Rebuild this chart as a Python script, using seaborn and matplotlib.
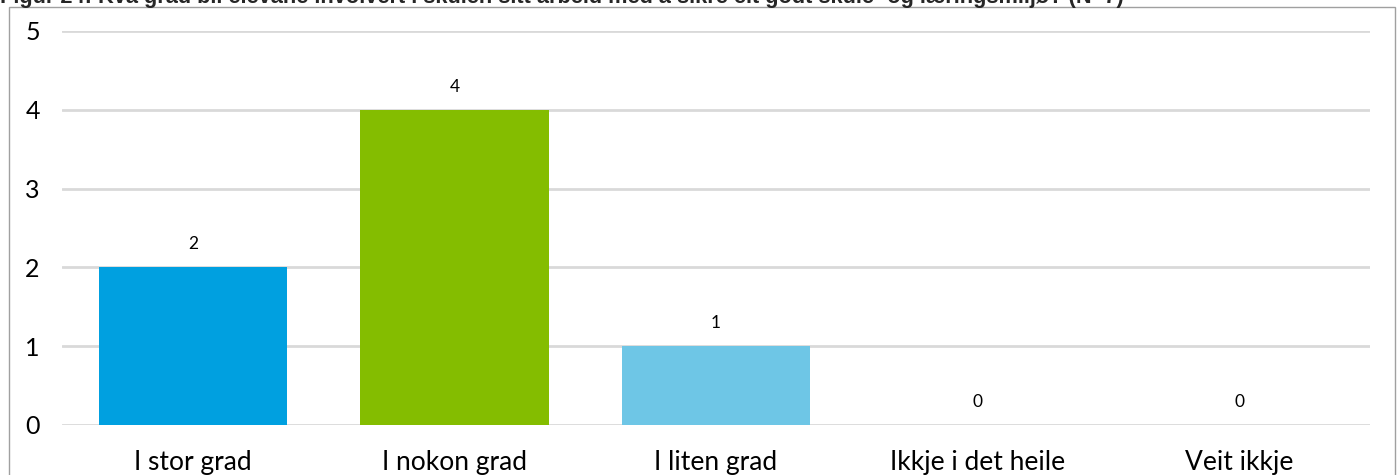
import numpy as np
import matplotlib
matplotlib.use('Agg')
import matplotlib.pyplot as plt
import matplotlib.patches as patches
import seaborn as sns
import pandas as pd

# data
categories = ['I stor grad', 'I nokon grad', 'I liten grad', 'Ikkje i det heile', 'Veit ikkje']
counts = [2, 4, 1, 0, 0]
bar_colors = ['#00a0e0', '#84bd00', '#6ec6e6', '#6ec6e6', '#6ec6e6']
y_ticks = [0, 1, 2, 3, 4, 5]
title = 'Figur 24: Kva grad bli elevane involvert i skulen sitt arbeid med å sikre eit godt skule- og læringsmiljø? (N=7)'

sns.set_style('white')
plt.rcParams['font.family'] = ['Lato', 'DejaVu Sans']

df = pd.DataFrame({'kategori': categories, 'antal': counts})

fig = plt.figure(figsize=(13.98, 4.75), dpi=100)
ax = fig.add_axes([62 / 1398, 50 / 475, 1308 / 1398, 394 / 475])

sns.barplot(data=df, x='kategori', y='antal', hue='kategori', palette=bar_colors,
            legend=False, width=0.72, saturation=1, linewidth=0, ax=ax, zorder=3)

ax.set_ylim(0, 5)
ax.set_xlim(-0.5, 4.5)
ax.set_yticks(y_ticks)
ax.yaxis.grid(True, color='#d9d9d9', linewidth=2, zorder=0)
ax.set_axisbelow(True)
for s in ax.spines.values():
    s.set_visible(False)
ax.set_xlabel('')
ax.set_ylabel('')
ax.tick_params(axis='y', length=0, pad=16, labelsize=18, labelcolor='#000000')
ax.tick_params(axis='x', length=0, pad=18, labelsize=19, labelcolor='#000000')

# value labels above bars
for i, v in enumerate(counts):
    ax.annotate(str(v), (i, v), xytext=(0, 11), textcoords='offset points',
                ha='center', va='bottom', fontsize=12.5, color='#000000')

# outer frame
fig.patches.append(patches.Rectangle((9 / 1398, -0.1), 1386 / 1398, 1.1 - 7 / 475,
                                     transform=fig.transFigure, fill=False,
                                     edgecolor='#a0a0a0', linewidth=1))

# title, clipped at the top like in the reference
fig.text(0.0, 1 - 3 / 475, title, ha='left', va='baseline', fontsize=15.7,
         fontweight='bold', family=['Liberation Sans', 'DejaVu Sans'])

fig.savefig('out.png', dpi=100)
